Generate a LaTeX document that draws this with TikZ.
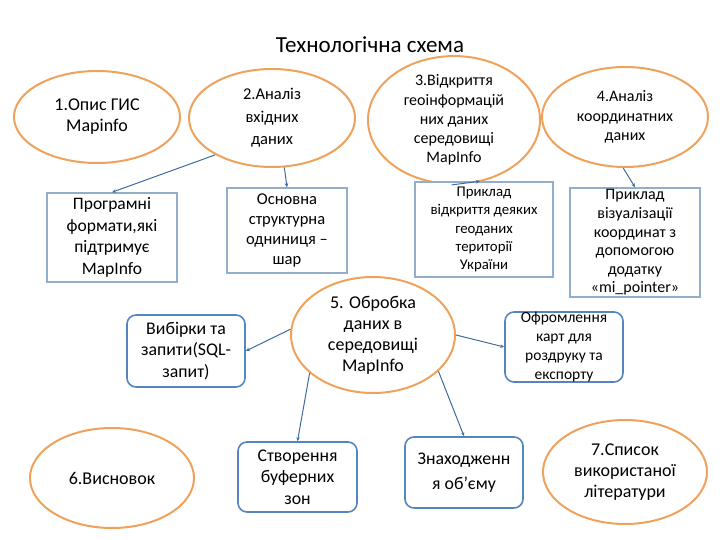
\documentclass[tikz,border=0pt]{standalone}
\usepackage{fontspec}
\setmainfont{Carlito}
\usetikzlibrary{shapes.geometric,arrows.meta}
\definecolor{ellcol}{HTML}{EFA25C}
\definecolor{boxcol}{HTML}{93AECB}
\definecolor{rbcol}{HTML}{5585BF}
\definecolor{lncol}{HTML}{3F6C9C}
\newcommand{\fs}[2]{\fontsize{#1}{#2}\selectfont}
\tikzset{
  ell/.style={ellipse, draw=ellcol, line width=2pt, fill=white, inner sep=0pt, align=center, font=\fs{18}{21}},
  sqbox/.style={rectangle, draw=boxcol, line width=1.5pt, fill=white, inner sep=0pt, align=center, font=\fs{17.5}{21}},
  rbox/.style={rectangle, rounded corners=9pt, draw=rbcol, line width=1.6pt, fill=white, inner sep=0pt, align=center, font=\fs{17.8}{21.3}},
  conn/.style={draw=lncol, line width=1pt, -{Stealth[length=4pt,width=3.5pt]}}
}
\begin{document}
\begin{tikzpicture}[x=1pt,y=-1pt]
\useasboundingbox (0,0) rectangle (720,540);
\node[font=\fs{23}{26}] (title) at (370,45) {Технологічна схема};
% ellipses
\node[ell, minimum width=166pt, minimum height=92pt] (e1) at (97,117) {1.Опис ГИС\\Mapinfo};
\node[ell, minimum width=166pt, minimum height=98pt, font=\fs{16.5}{22.5}] (e2) at (272,118) {2.Аналіз\\вхідних\\даних};
\node[ell, minimum width=172pt, minimum height=100pt, font=\fs{16}{19.2}] (e3) at (454,120) {3.Відкриття\\геоінформацій\\них даних\\середовищі\\MapInfo};
\node[ell, minimum width=166pt, minimum height=100pt, font=\fs{16}{19.5}] (e4) at (625,117) {4.Аналіз\\координатних\\даних};
\node[ell, minimum width=164pt, minimum height=116pt] (e5) at (373,335) {5. Обробка\\даних в\\середовищі\\MapInfo};
\node[ell, minimum width=164pt, minimum height=100pt] (e6) at (112,478) {6.Висновок};
\node[ell, minimum width=164pt, minimum height=104pt] (e7) at (625,472) {7.Список\\використаної\\літератури};
% square boxes
\node[sqbox, minimum width=130pt, minimum height=89pt, font=\fs{17.5}{21.7}] (b1) at (112,237.5) {Програмні\\формати,які\\підтримує\\MapInfo};
\node[sqbox, minimum width=120pt, minimum height=85pt, font=\fs{16.5}{20.3}] (b2) at (287,230.5) {Основна\\структурна\\одниниця –\\шар};
\node[sqbox, minimum width=138pt, minimum height=95pt, font=\fs{14.8}{18.3}] (b3) at (484,229.5) {Приклад\\відкриття деяких\\геоданих\\території\\України};
\node[sqbox, minimum width=130pt, minimum height=109pt, font=\fs{16}{18.6}] (b4) at (635,242.5) {Приклад\\візуалізації\\координат з\\допомогою\\додатку\\«mi\_pointer»};
% rounded boxes
\node[rbox, minimum width=118pt, minimum height=72pt] (r1) at (186,351) {Вибірки та\\запити(SQL-\\запит)};
\node[rbox, minimum width=119pt, minimum height=70pt] (r2) at (297.5,477) {Створення\\буферних\\зон};
\node[rbox, minimum width=118pt, minimum height=70pt, font=\fs{15.5}{19}] (r3) at (564,347) {Офромлення\\карт для\\роздруку та\\експорту};
\node[rbox, minimum width=118pt, minimum height=71pt, font=\fs{17.8}{25}] (r4) at (464,472.5) {Знаходженн\\я об’єму};
% connectors
\draw[conn] (e2.213) -- (b1.north);
\draw[conn] (e2.284) -- (b2.north);
\draw[conn] (e3.268) -- ([xshift=-4pt]b3.north);
\draw[conn] (e4.268) -- (b4.north);
\draw[conn] (e5.176) -- (r1.east);
\draw[conn] (e5.211) -- (r2.north);
\draw[conn] (e5.east) -- (r3.west);
\draw[conn] (e5.331) -- (r4.north);
\end{tikzpicture}
\end{document}
